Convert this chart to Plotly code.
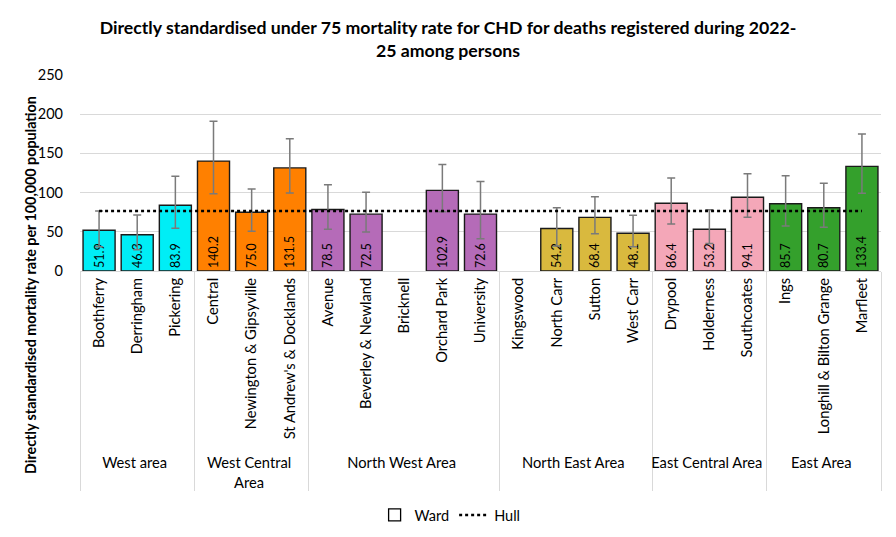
import plotly.graph_objects as go

areas = ["West area"]*3 + ["West Central<br>Area"]*3 + ["North West Area"]*5 + \
        ["North East Area"]*4 + ["East Central Area"]*3 + ["East Area"]*3
wards = ["Boothferry", "Derringham", "Pickering",
         "Central", "Newington & Gipsyville", "St Andrew's & Docklands",
         "Avenue", "Beverley & Newland", "Bricknell", "Orchard Park", "University",
         "Kingswood", "North Carr", "Sutton", "West Carr",
         "Drypool", "Holderness", "Southcoates",
         "Ings", "Longhill & Bilton Grange", "Marfleet"]
rates = [51.9, 46.3, 83.9,
         140.2, 75.0, 131.5,
         78.5, 72.5, None, 102.9, 72.6,
         None, 54.2, 68.4, 48.1,
         86.4, 53.2, 94.1,
         85.7, 80.7, 133.4]
upper = [76.5, 71.4, 120.8,
         190.9, 104.6, 168.8,
         110.0, 100.3, None, 136.0, 114.0,
         None, 80.6, 94.8, 71.2,
         118.6, 78.0, 124.1,
         121.6, 111.8, 174.7]
lower = [31.0, 27.0, 54.4,
         98.6, 50.6, 99.5,
         53.1, 49.7, None, 75.7, 41.2,
         None, 32.0, 47.6, 31.0,
         60.0, 35.0, 68.5,
         57.4, 55.7, 99.1]
hull = [76.5]*len(wards)

area_colors = {"West area": "#00EEF6", "West Central<br>Area": "#FF8000",
               "North West Area": "#B56BB8", "North East Area": "#D9B93E",
               "East Central Area": "#F4A7B8", "East Area": "#34A02C"}
colors = [area_colors[a] for a in areas]

err_plus = [None if r is None else u - r for r, u in zip(rates, upper)]
err_minus = [None if r is None else r - l for r, l in zip(rates, lower)]

FONT = "Lato"
W, H = 896, 537
ML, MR, MT, MB = 72, 23, 67, 274

fig = go.Figure()
fig.add_trace(go.Bar(
    x=[areas, wards], y=rates, name="Ward", showlegend=False,
    marker=dict(color=colors, line=dict(color="#1a1a1a", width=1.4)),
    text=[None if r is None else f"{r:.1f}" for r in rates],
    textposition="inside", insidetextanchor="start", textangle=-90,
    constraintext="none",
    textfont=dict(family=FONT, size=12.5, color="black"),
    error_y=dict(type="data", symmetric=False, array=err_plus, arrayminus=err_minus,
                 color="#7a7a7a", thickness=1.5, width=4),
))
fig.add_trace(go.Bar(
    x=[[areas[0]], [wards[0]]], y=[None], name="Ward",
    marker=dict(color="white", line=dict(color="black", width=1.3)),
    showlegend=True,
))
fig.add_trace(go.Scatter(
    x=[areas, wards], y=hull, name="Hull", mode="lines",
    line=dict(color="black", width=2.5, dash="dot"),
))

plot_w = W - ML - MR
plot_h = H - MT - MB
fig.add_annotation(
    text="<b>Directly standardised mortality rate per 100,000 population</b>",
    textangle=-90, showarrow=False, xref="paper", yref="paper",
    x=(22 - ML) / plot_w, y=(H - MB - 277) / plot_h,
    xanchor="center", yanchor="middle",
    font=dict(family=FONT, size=14.3, color="black"),
)

fig.update_layout(
    width=W, height=H,
    margin=dict(l=ML, r=MR, t=MT, b=MB),
    paper_bgcolor="white", plot_bgcolor="white",
    barmode="overlay", bargap=0.16,
    font=dict(family=FONT, size=14.5, color="black"),
    title=dict(text="<b>Directly standardised under 75 mortality rate for CHD for deaths registered during 2022-<br>25 among persons</b>",
               x=440 / W, xref="container", xanchor="center",
               y=1 - 25.5 / H, yref="container", yanchor="middle",
               font=dict(family=FONT, size=17.7, color="black")),
    showlegend=True,
    legend=dict(orientation="h", x=414 / W, xanchor="center",
                y=1 - 507 / H, yref="container", yanchor="middle",
                font=dict(family=FONT, size=14.5), traceorder="normal"),
)
fig.update_xaxes(
    type="multicategory", tickangle=-90, showgrid=False, automargin=False,
    showline=True, linecolor="#d9d9d9", linewidth=1,
    showdividers=True, dividercolor="#d9d9d9", dividerwidth=1,
    tickfont=dict(family=FONT, size=14.7), ticks="",
)
fig.update_yaxes(
    range=[0, 250], dtick=50, showgrid=True, gridcolor="#d9d9d9", gridwidth=1,
    zeroline=False, showline=False, ticks="", automargin=False,
    tickfont=dict(family=FONT, size=14.5), ticklabelstandoff=16,
)
fig.write_html("out.html")
